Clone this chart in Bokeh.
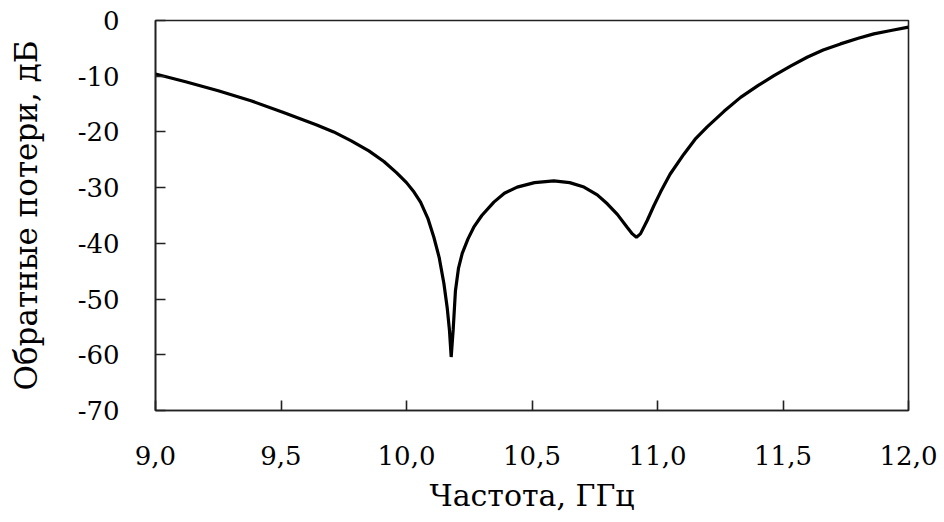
from bokeh.plotting import figure
from bokeh.models import FixedTicker, CustomJSTickFormatter, Range1d
from bokeh.embed import file_html
from bokeh.resources import INLINE

# Frequency, GHz
freq = [9.00, 9.12, 9.25, 9.38, 9.51, 9.64, 9.71, 9.78, 9.85, 9.91, 9.96,
        10.00, 10.03, 10.056, 10.085, 10.109, 10.13, 10.149, 10.162, 10.171, 10.178,
        10.186, 10.195, 10.207, 10.222, 10.245, 10.268, 10.30, 10.348, 10.39,
        10.441, 10.51, 10.587, 10.65, 10.707, 10.76, 10.80, 10.84, 10.879,
        10.90, 10.916, 10.932, 10.959, 10.985, 11.012, 11.05, 11.105, 11.15,
        11.198, 11.265, 11.331, 11.40, 11.464, 11.53, 11.596, 11.66, 11.729,
        11.80, 11.862, 11.93, 12.00]
# Return loss, dB
loss = [-9.6, -11.0, -12.6, -14.4, -16.5, -18.7, -20.0, -21.6, -23.4, -25.3, -27.3,
        -29.1, -30.8, -32.6, -35.5, -38.9, -42.5, -47.2, -51.5, -55.5, -60.4,
        -55.5, -48.5, -44.5, -41.8, -39.2, -37.1, -35.0, -32.6, -31.0,
        -29.9, -29.1, -28.8, -29.1, -29.9, -31.3, -32.9, -34.8, -37.1,
        -38.3, -38.9, -38.3, -35.9, -33.3, -30.8, -27.6, -24.0, -21.3,
        -19.1, -16.3, -13.8, -11.7, -9.9, -8.2, -6.6, -5.3, -4.2,
        -3.2, -2.4, -1.8, -1.2]

x_ticks = [9.0, 9.5, 10.0, 10.5, 11.0, 11.5, 12.0]
y_ticks = [0, -10, -20, -30, -40, -50, -60, -70]
x_title = "Частота, ГГц"
y_title = "Обратные потери, дБ"

FONT = "DejaVu Serif"

p = figure(frame_width=753, frame_height=390,
           min_border_left=155, min_border_right=30,
           min_border_top=20, min_border_bottom=106,
           output_backend="svg", toolbar_location=None,
           x_range=Range1d(9.0, 12.0), y_range=Range1d(-70, 0))

p.line(freq, loss, line_color="black", line_width=3.2)

p.xgrid.visible = False
p.ygrid.visible = False
p.outline_line_color = "#222222"
p.outline_line_width = 1.6
p.background_fill_color = "white"
p.border_fill_color = "white"

for ax in (p.xaxis[0], p.yaxis[0]):
    ax.axis_line_color = "#222222"
    ax.axis_line_width = 1.6
    ax.major_tick_line_color = "#222222"
    ax.major_tick_line_width = 1.6
    ax.major_tick_in = 10
    ax.major_tick_out = 0
    ax.minor_tick_line_color = None
    ax.major_label_text_font = FONT
    ax.major_label_text_font_size = "26px"
    ax.major_label_text_color = "black"
    ax.axis_label_text_font = FONT
    ax.axis_label_text_font_size = "30px"
    ax.axis_label_text_font_style = "normal"
    ax.axis_label_text_color = "black"

p.yaxis[0].axis_label_text_font_size = "31px"

p.xaxis[0].ticker = FixedTicker(ticks=x_ticks)
p.yaxis[0].ticker = FixedTicker(ticks=y_ticks)
p.xaxis[0].formatter = CustomJSTickFormatter(code="return tick.toFixed(1).replace('.', ',');")
p.yaxis[0].formatter = CustomJSTickFormatter(code="return Math.round(tick).toString();")
p.xaxis[0].axis_label = x_title
p.yaxis[0].axis_label = y_title
p.xaxis[0].major_label_standoff = 35
p.xaxis[0].axis_label_standoff = 10
p.yaxis[0].major_label_standoff = 36
p.yaxis[0].axis_label_standoff = 31

open("out.html", "w").write(file_html(p, INLINE))
